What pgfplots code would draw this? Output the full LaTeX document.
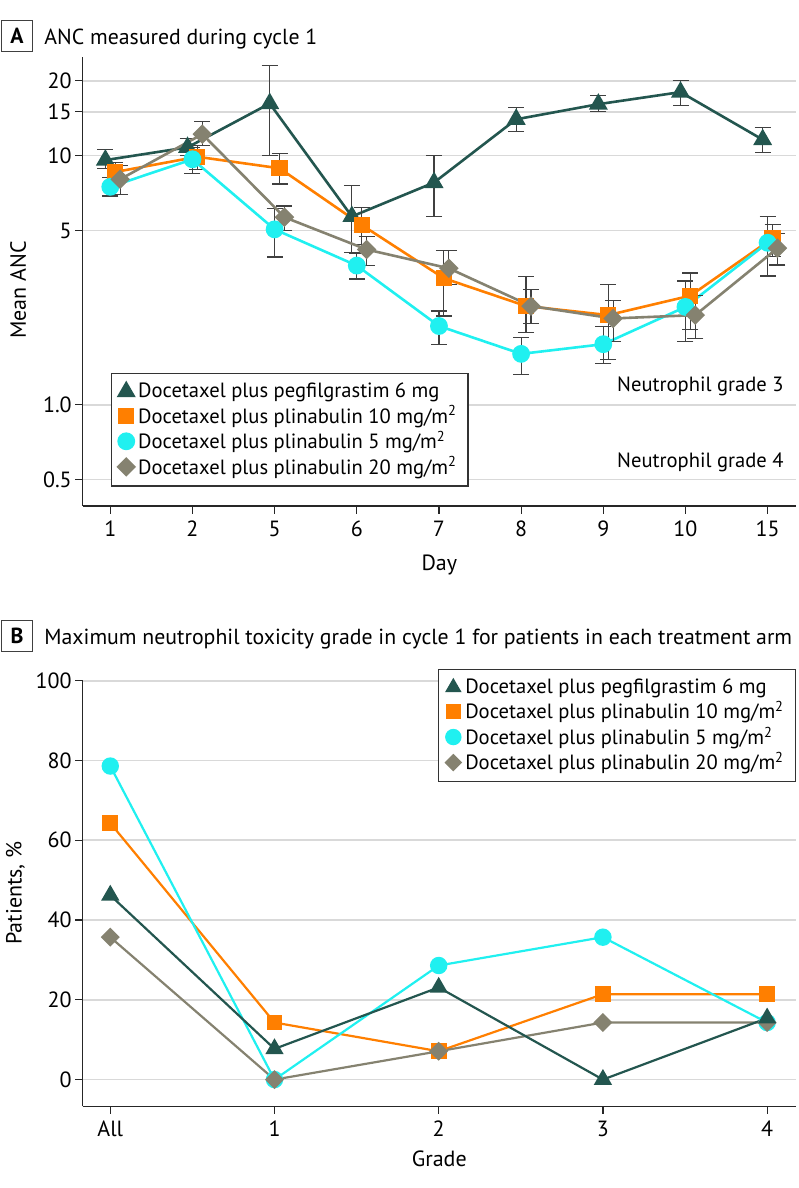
\documentclass[border=0pt]{standalone}
\usepackage{fontspec}
\setmainfont{PT Sans}
\usepackage{pgfplots}
\usepackage{pgfplotstable}
\pgfplotsset{compat=1.18}

\definecolor{pegteal}{HTML}{23564F}
\definecolor{plorange}{HTML}{FF7F00}
\definecolor{plcyan}{HTML}{20F0F0}
\definecolor{plgray}{HTML}{858270}
\definecolor{gridgray}{HTML}{D9D9D9}

% panel A: mean ANC by day index (0..8 = days 1,2,5,6,7,8,9,10,15), with error bar ends
\pgfplotstableread{
i m lo hi
0 9.6 8.85 10.6
1 10.8 10.0 11.7
2 16.2 10.0 23.1
3 5.7 4.1 7.6
4 7.8 5.7 10.0
5 14.0 12.5 15.6
6 16.1 15.1 17.4
7 18.0 15.9 20.1
8 11.6 10.3 13.0
}\pegA
\pgfplotstableread{
i m lo hi
0 8.6 7.9 9.4
1 9.9 8.8 11.0
2 8.9 7.7 10.2
3 5.27 4.4 6.2
4 3.22 2.27 4.15
5 2.49 1.95 3.27
6 2.29 1.52 3.03
7 2.74 2.0 3.38
8 4.66 3.95 5.3
}\tenA
\pgfplotstableread{
i m lo hi
0 7.5 6.89 8.19
1 9.67 8.5 10.8
2 5.06 3.92 6.15
3 3.62 3.2 4.06
4 2.07 1.74 2.38
5 1.60 1.32 1.86
6 1.75 1.46 2.06
7 2.47 1.79 3.14
8 4.47 3.29 5.69
}\fiveA
\pgfplotstableread{
i m lo hi
0 8.04 7.01 9.1
1 12.2 11.0 13.7
2 5.66 5.0 6.28
3 4.2 3.61 4.73
4 3.53 3.03 4.15
5 2.49 2.12 2.9
6 2.22 1.79 2.62
7 2.29 1.85 2.75
8 4.25 3.64 4.88
}\twentyA

\pgfplotsset{
  panel/.style={
    scale only axis, width=356.5pt,
    axis x line*=bottom, axis y line*=left,
    axis line style={black!85, line width=0.6pt, -},
    tick style={black!85, line width=0.6pt},
    major tick length=3.8pt, tick align=outside,
    ymajorgrids, grid style={gridgray, line width=0.8pt},
    tick label style={font=\fontsize{11}{13}\selectfont},
    yticklabel style={inner xsep=1.5pt},
    /pgf/number format/assume math mode=true,
    clip=false,
    legend image code/.code={\draw[#1,only marks] plot coordinates {(0.12cm,0cm)};},
    legend style={draw=black!80, line width=0.6pt, font=\fontsize{10.3}{12.5}\selectfont,
      cells={anchor=west}, row sep=-1.5pt, inner xsep=3.5pt, inner ysep=2.5pt},
  },
  peg/.style={pegteal, mark=triangle*, mark size=4.2pt},
  ten/.style={plorange, mark=square*, mark size=3.4pt},
  five/.style={plcyan, mark=*, mark size=3.8pt},
  twenty/.style={plgray, mark=square*, mark size=2.8pt, mark options={rotate=45}},
  ebar/.style={error bars/.cd, y dir=both, y explicit,
    error bar style={line width=0.6pt, black!75},
    error mark options={rotate=90, mark size=4pt, line width=0.6pt, black!75}},
}

\newcommand{\msq}{mg/m\textsuperscript{2}}

\begin{document}
\begin{tikzpicture}
\path (-41.35pt,253pt) rectangle (357.65pt,-341pt);

\begin{axis}[panel, at={(0,0)}, anchor=south west,
  height=224.7pt,
  ymode=log, ymin=0.392, ymax=25,
  ytick={0.5,1,5,10,15,20}, yticklabels={0.5,1.0,5,10,15,20},
  xmin=-0.336, xmax=8.342,
  xtick={0,...,8}, xticklabels={1,2,5,6,7,8,9,10,15},
  legend style={at={(rel axis cs:0.0393,0.043)}, anchor=south west},
]
\addplot[peg, line width=1.3pt, ebar] table[x expr=\thisrow{i}-0.06, y=m,
  y error plus expr=\thisrow{hi}-\thisrow{m}, y error minus expr=\thisrow{m}-\thisrow{lo}] {\pegA};
\addplot[ten, line width=1.3pt, ebar] table[x expr=\thisrow{i}+0.06, y=m,
  y error plus expr=\thisrow{hi}-\thisrow{m}, y error minus expr=\thisrow{m}-\thisrow{lo}] {\tenA};
\addplot[five, line width=1.3pt, ebar] table[x expr=\thisrow{i}, y=m,
  y error plus expr=\thisrow{hi}-\thisrow{m}, y error minus expr=\thisrow{m}-\thisrow{lo}] {\fiveA};
\addplot[twenty, line width=1.3pt, ebar] table[x expr=\thisrow{i}+0.12, y=m,
  y error plus expr=\thisrow{hi}-\thisrow{m}, y error minus expr=\thisrow{m}-\thisrow{lo}] {\twentyA};
\legend{Docetaxel plus pegfilgrastim 6 mg, Docetaxel plus plinabulin 10 \msq,
  Docetaxel plus plinabulin 5 \msq, Docetaxel plus plinabulin 20 \msq}
\node[anchor=base east, inner sep=0pt, font=\fontsize{10.3}{12}\selectfont] at (axis cs:8.2,1.13) {Neutrophil grade 3};
\node[anchor=base east, inner sep=0pt, font=\fontsize{10.3}{12}\selectfont] at (axis cs:8.2,0.561) {Neutrophil grade 4};
\end{axis}

\begin{axis}[panel, at={(0,-300.15pt)}, anchor=south west,
  height=212.8pt,
  ymin=-6.7, ymax=100,
  ytick={0,20,40,60,80,100}, yticklabels={0,20,40,60,80,100},
  xmin=-0.168, xmax=4.174,
  xtick={0,...,4}, xticklabels={All,1,2,3,4},
  legend style={at={(rel axis cs:1,1.0275)}, anchor=north east},
]
\addlegendimage{peg}
\addlegendimage{ten}
\addlegendimage{five}
\addlegendimage{twenty}
\addplot[ten, line width=1.1pt, forget plot] coordinates {(0,64.3) (1,14.3) (2,7.1) (3,21.4) (4,21.4)};
\addplot[five, line width=1.1pt, forget plot] coordinates {(0,78.6) (1,0) (2,28.6) (3,35.7) (4,14.3)};
\addplot[twenty, line width=1.1pt, forget plot] coordinates {(0,35.7) (1,0) (2,7.1) (3,14.3) (4,14.3)};
\addplot[peg, line width=1.1pt, forget plot] coordinates {(0,46.2) (1,7.7) (2,23.1) (3,0) (4,15.4)};
\legend{Docetaxel plus pegfilgrastim 6 mg, Docetaxel plus plinabulin 10 \msq,
  Docetaxel plus plinabulin 5 \msq, Docetaxel plus plinabulin 20 \msq}
\end{axis}

% panel letters, titles, axis labels
\node[draw=black!75, line width=0.6pt, minimum width=15.3pt, minimum height=15.5pt, inner sep=0pt,
  font=\bfseries\fontsize{10.9}{12}\selectfont] at (-32.85pt,234.9pt) {A};
\node[anchor=base west, inner sep=0pt, font=\fontsize{10.9}{12}\selectfont] at (-19.35pt,230.85pt) {ANC measured during cycle 1};
\node[draw=black!75, line width=0.6pt, minimum width=15.3pt, minimum height=15.5pt, inner sep=0pt,
  font=\bfseries\fontsize{10.9}{12}\selectfont] at (-32.85pt,-65.1pt) {B};
\node[anchor=base west, inner sep=0pt, font=\fontsize{10.9}{12}\selectfont] at (-19.35pt,-69.15pt) {Maximum neutrophil toxicity grade in cycle 1 for patients in each treatment arm};
\node[rotate=90, anchor=base, inner sep=0pt, font=\fontsize{11}{13}\selectfont] at (-28.35pt,108pt) {Mean ANC};
\node[rotate=90, anchor=base, inner sep=0pt, font=\fontsize{11}{13}\selectfont] at (-30.6pt,-193.5pt) {Patients, \%};
\node[anchor=base, inner sep=0pt, font=\fontsize{11}{13}\selectfont] at (178.3pt,-32pt) {Day};
\node[anchor=base, inner sep=0pt, font=\fontsize{11}{13}\selectfont] at (178.3pt,-330.35pt) {Grade};
\end{tikzpicture}
\end{document}
